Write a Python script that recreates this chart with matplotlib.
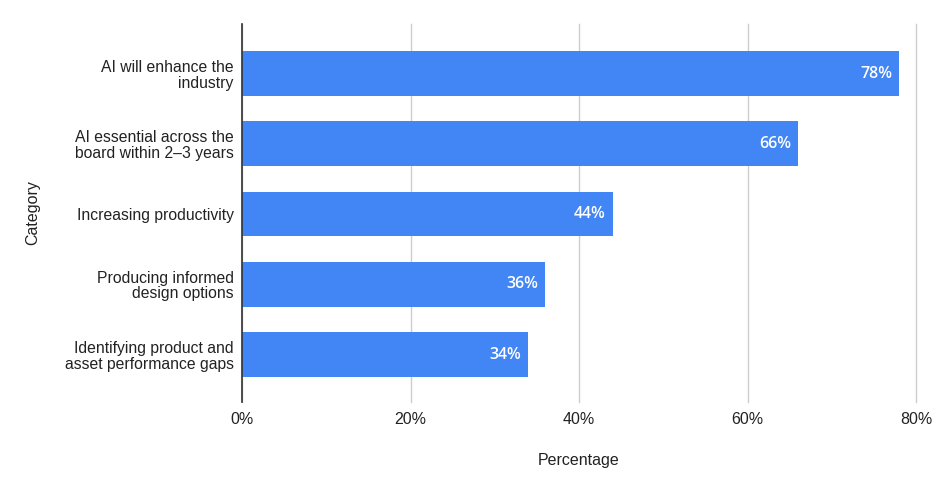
import matplotlib
matplotlib.use("Agg")
import matplotlib.pyplot as plt
from matplotlib.ticker import PercentFormatter

# Survey data
categories = [
    "AI will enhance the\nindustry",
    "AI essential across the\nboard within 2\u20133 years",
    "Increasing productivity",
    "Producing informed\ndesign options",
    "Identifying product and\nasset performance gaps",
]
values = [78, 66, 44, 36, 34]
x_ticks = [0, 20, 40, 60, 80]

bar_color = "#4285F4"
text_color = "#222222"
plt.rcParams["font.family"] = ["Liberation Sans", "DejaVu Sans"]

fig = plt.figure(figsize=(9.4, 4.9), dpi=100)
ax = fig.add_axes([242 / 940, 88 / 490, 674 / 940, 378 / 490])

positions = list(range(len(categories)))
bars = ax.barh(positions, values, height=0.64, color=bar_color, zorder=3)

# value labels inside the bar ends
for rect, v in zip(bars, values):
    ax.annotate(f"{v}%", xy=(rect.get_width(), rect.get_y() + rect.get_height() / 2),
                xytext=(-5, 0), textcoords="offset points",
                ha="right", va="center", color="white", fontsize=11.5,
                fontweight="semibold", family=["Open Sans", "DejaVu Sans"], zorder=4)

ax.set_xlim(0, 80)
ax.set_ylim(4.676, -0.705)
ax.set_yticks(positions)
ax.set_yticklabels(categories, fontsize=11.3, color=text_color, linespacing=1.05)
ax.set_xticks(x_ticks)
ax.xaxis.set_major_formatter(PercentFormatter(decimals=0))
ax.tick_params(axis="x", length=0, pad=7, labelsize=11.5, labelcolor=text_color)
ax.tick_params(axis="y", length=0, pad=6)

ax.grid(axis="x", color="#cccccc", linewidth=1, zorder=0)
for gl in ax.get_xgridlines():
    gl.set_clip_on(False)
for side in ["top", "right", "bottom"]:
    ax.spines[side].set_visible(False)
ax.spines["left"].set_color("#333333")
ax.spines["left"].set_linewidth(1.2)
ax.spines["left"].set_zorder(5)

ax.set_xlabel("Percentage", fontsize=11.5, color=text_color, labelpad=19)
ax.set_ylabel("Category", fontsize=11.5, color=text_color)
ax.yaxis.set_label_coords(-0.3, 0.5)

fig.savefig("out.png", dpi=100, facecolor="white")
